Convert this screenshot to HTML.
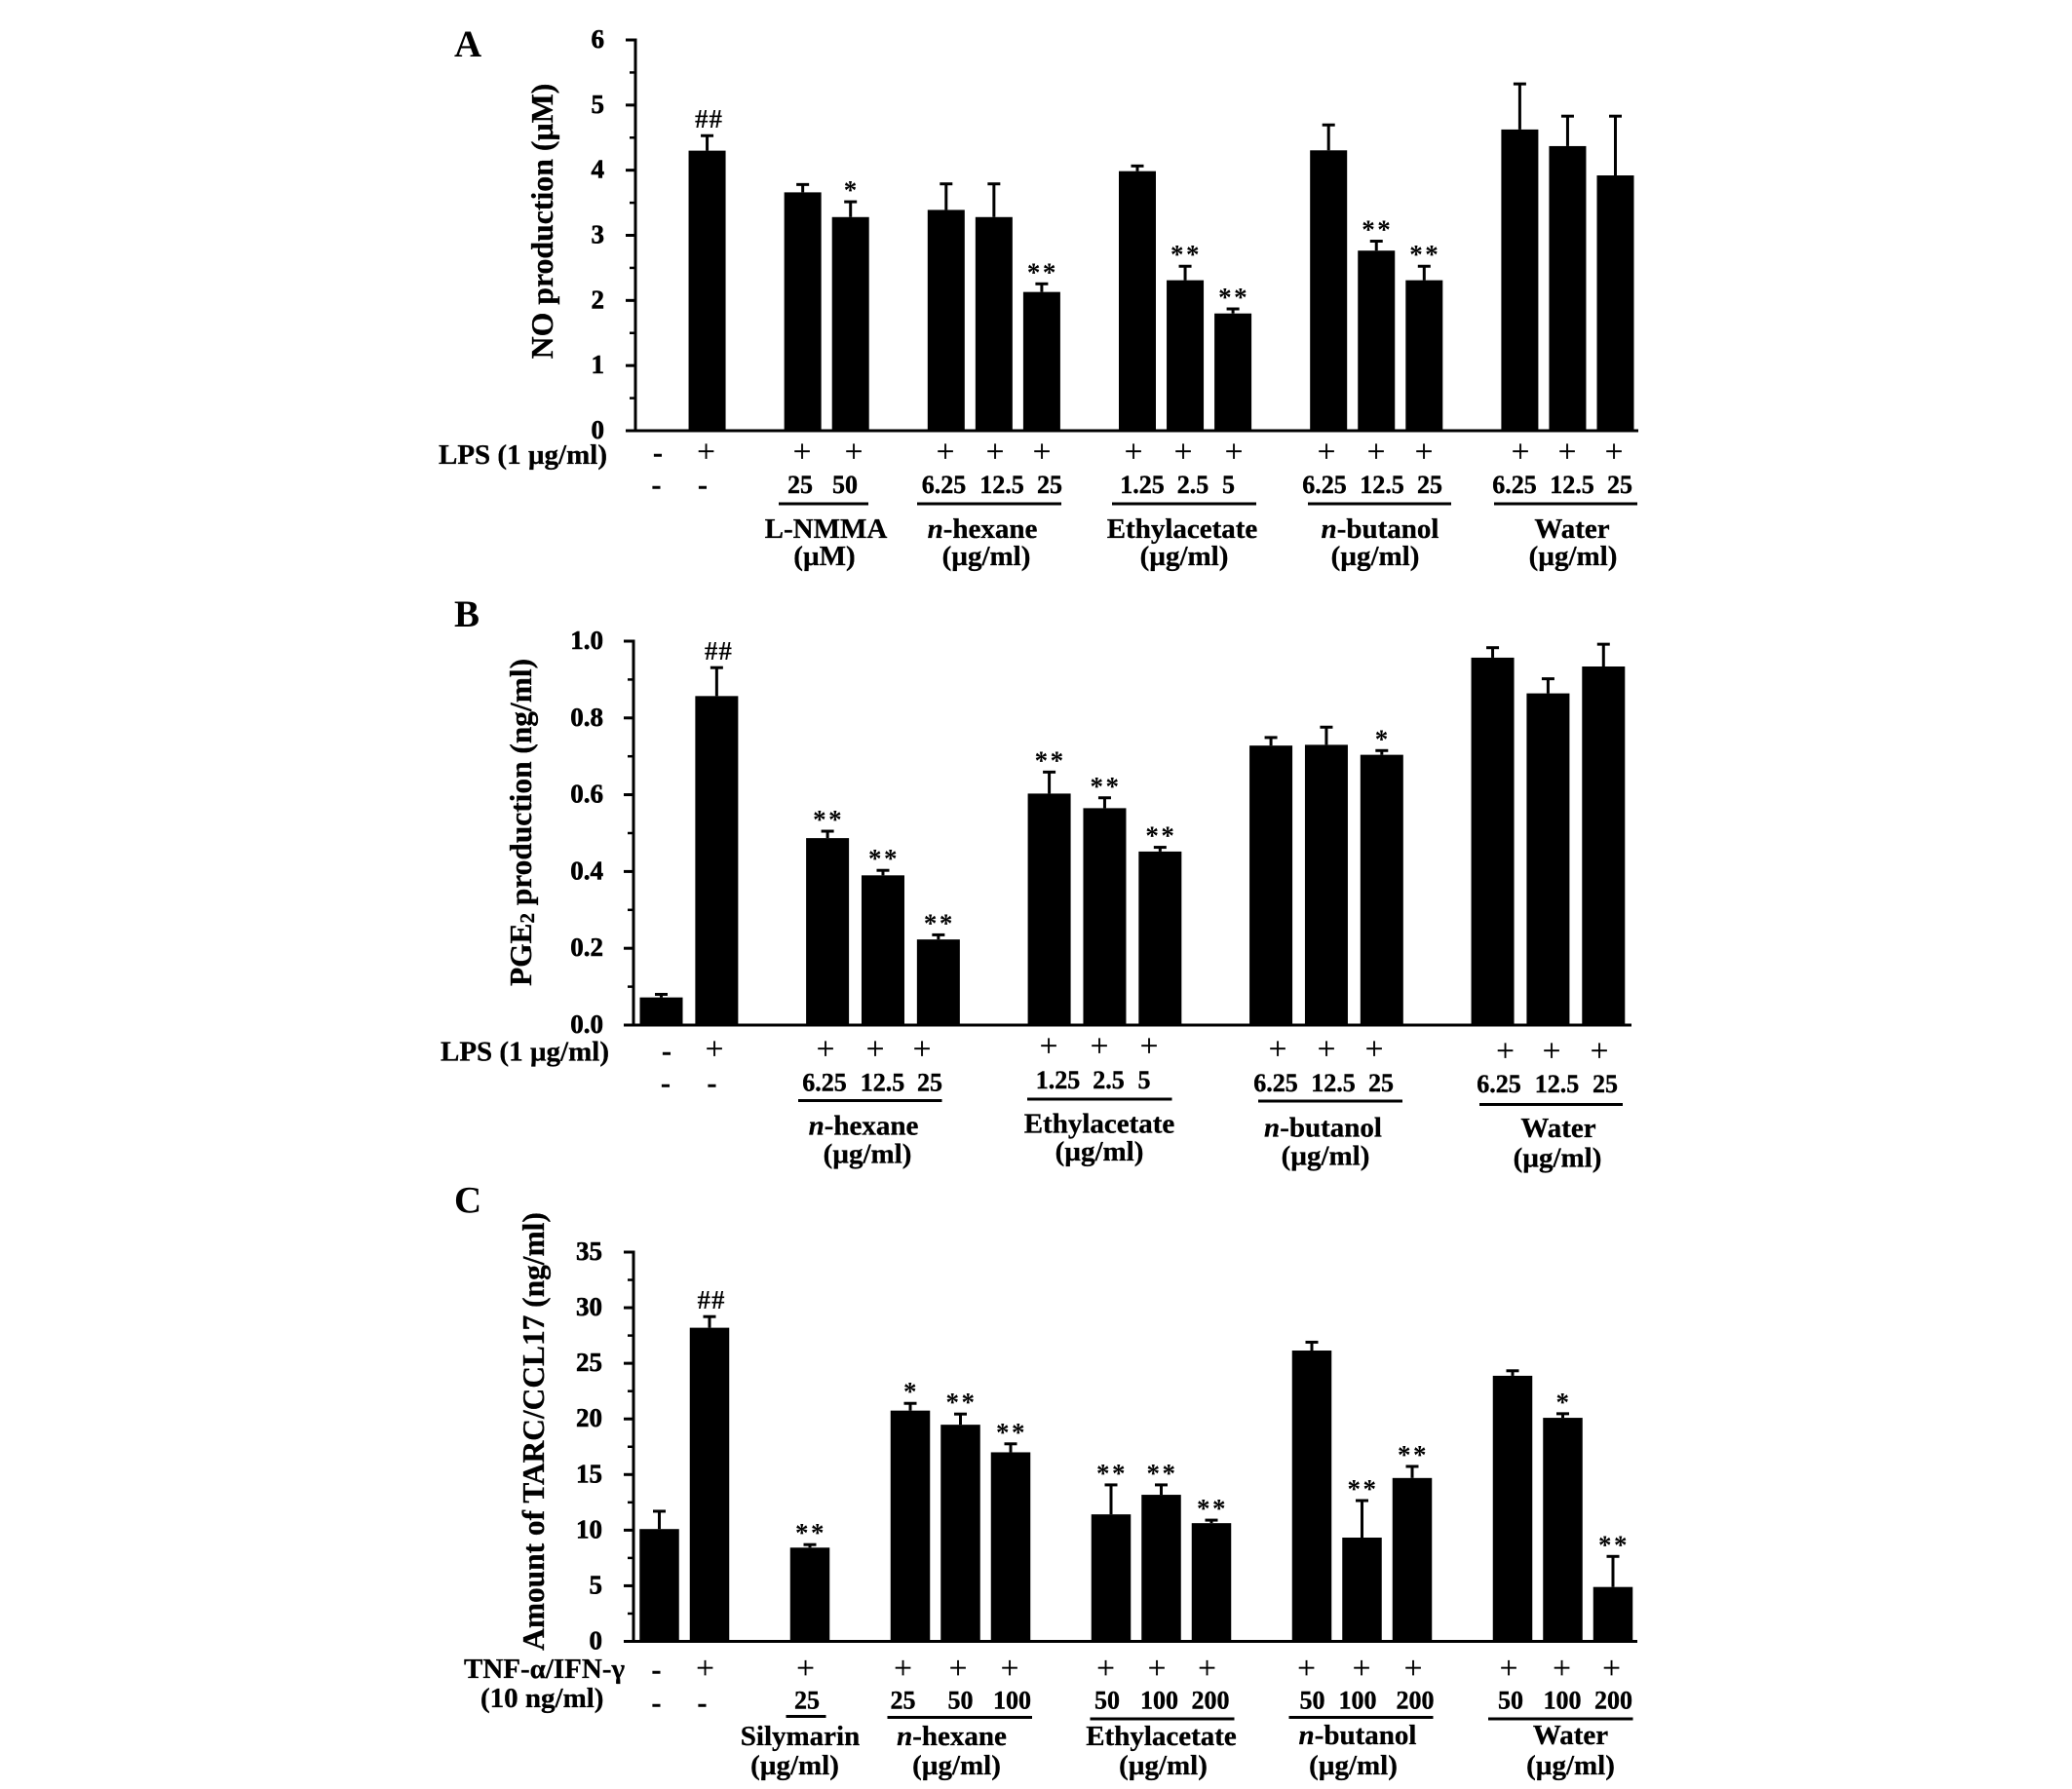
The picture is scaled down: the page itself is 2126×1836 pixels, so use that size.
<!DOCTYPE html>
<html lang="en">
<head>
<meta charset="utf-8">
<title>NO, PGE2 and TARC/CCL17 production</title>
<style>
html,body{margin:0;padding:0;background:#fff;}
svg{display:block;}
text{font-family:"Liberation Serif","Noto Serif CJK SC",serif;fill:#000;}
.n{font-size:26px;font-weight:bold;text-anchor:middle;stroke:#000;stroke-width:.4px;transform:translateY(-1px);}
.l{font-size:29px;font-weight:bold;text-anchor:middle;stroke:#000;stroke-width:.3px;}
.s{font-size:29px;font-weight:bold;stroke:#000;stroke-width:.3px;}
.p{font-size:33px;text-anchor:middle;stroke:#000;stroke-width:.3px;transform:translateY(1px);}
.m{font-size:29px;font-weight:bold;text-anchor:middle;stroke:#000;stroke-width:.6px;}
.t{font-size:39px;font-weight:bold;}
.u{stroke:#000;stroke-width:3px;}
</style>
</head>
<body>
<svg id="figure" xmlns="http://www.w3.org/2000/svg" width="2126" height="1836" viewBox="0 0 2126 1836">
<rect x="0" y="0" width="2126" height="1836" fill="#fff"/>

<g id="panel-a">
<text class="t" x="466" y="58">A</text>
<text class="s" style="font-size:31.8px" text-anchor="middle" transform="translate(567 227) rotate(-90)">NO production (µM)</text>
<text class="s" x="450" y="476">LPS (1 µg/ml)</text>
<g>
<text class="m" x="675" y="474">-</text>
<text class="p" x="724.5" y="473">+</text>
<text class="p" x="823" y="473">+</text>
<text class="p" x="876" y="473">+</text>
<text class="p" x="970" y="473">+</text>
<text class="p" x="1021" y="473">+</text>
<text class="p" x="1069" y="473">+</text>
<text class="p" x="1163" y="473">+</text>
<text class="p" x="1214" y="473">+</text>
<text class="p" x="1266" y="473">+</text>
<text class="p" x="1361" y="473">+</text>
<text class="p" x="1412" y="473">+</text>
<text class="p" x="1461" y="473">+</text>
<text class="p" x="1560" y="473">+</text>
<text class="p" x="1608" y="473">+</text>
<text class="p" x="1656" y="473">+</text>
</g>
<g>
<text class="m" x="673.5" y="507">-</text>
<text class="m" x="721" y="507">-</text>
<text class="n" x="821" y="507">25</text>
<text class="n" x="867" y="507">50</text>
<text class="n" x="968.5" y="507">6.25</text>
<text class="n" x="1028" y="507">12.5</text>
<text class="n" x="1077" y="507">25</text>
<text class="n" x="1172" y="507">1.25</text>
<text class="n" x="1224" y="507">2.5</text>
<text class="n" x="1260.5" y="507">5</text>
<text class="n" x="1359" y="507">6.25</text>
<text class="n" x="1418" y="507">12.5</text>
<text class="n" x="1467" y="507">25</text>
<text class="n" x="1554" y="507">6.25</text>
<text class="n" x="1613" y="507">12.5</text>
<text class="n" x="1662" y="507">25</text>
</g>
<line class="u" x1="799" y1="517" x2="891" y2="517"/>
<line class="u" x1="941" y1="517" x2="1089" y2="517"/>
<line class="u" x1="1141" y1="517" x2="1289" y2="517"/>
<line class="u" x1="1342" y1="517" x2="1489" y2="517"/>
<line class="u" x1="1533" y1="517" x2="1680" y2="517"/>
<text class="l" x="847.5" y="552">L-NMMA</text>
<text class="l" x="846" y="580">(µM)</text>
<text class="l" x="1008" y="552"><tspan font-style="italic">n</tspan>-hexane</text>
<text class="l" x="1012" y="580">(µg/ml)</text>
<text class="l" x="1213" y="552">Ethylacetate</text>
<text class="l" x="1215" y="580">(µg/ml)</text>
<text class="l" x="1416" y="552"><tspan font-style="italic">n</tspan>-butanol</text>
<text class="l" x="1411" y="580">(µg/ml)</text>
<text class="l" x="1613" y="552">Water</text>
<text class="l" x="1614" y="580">(µg/ml)</text>
</g>

<g id="panel-b">
<text class="t" x="466" y="643">B</text>
<text class="s" style="font-size:31.4px" text-anchor="middle" transform="translate(545 844) rotate(-90)">PGE<tspan font-size="21" dy="3">2</tspan><tspan dy="-3"> production (ng/ml)</tspan></text>
<text class="s" x="452" y="1088.5">LPS (1 µg/ml)</text>
<g>
<text class="m" x="684" y="1088">-</text>
<text class="p" x="733" y="1086">+</text>
<text class="p" x="847" y="1086">+</text>
<text class="p" x="898" y="1086">+</text>
<text class="p" x="946" y="1086">+</text>
<text class="p" x="1076" y="1083">+</text>
<text class="p" x="1128" y="1083">+</text>
<text class="p" x="1179" y="1083">+</text>
<text class="p" x="1311" y="1086">+</text>
<text class="p" x="1361" y="1086">+</text>
<text class="p" x="1410" y="1086">+</text>
<text class="p" x="1544.5" y="1088">+</text>
<text class="p" x="1592" y="1088">+</text>
<text class="p" x="1641" y="1088">+</text>
</g>
<g>
<text class="m" x="683" y="1121">-</text>
<text class="m" x="730.5" y="1121">-</text>
<text class="n" x="846" y="1120.5">6.25</text>
<text class="n" x="905.5" y="1120.5">12.5</text>
<text class="n" x="954" y="1120.5">25</text>
<text class="n" x="1085.5" y="1118">1.25</text>
<text class="n" x="1137.5" y="1118">2.5</text>
<text class="n" x="1174" y="1118">5</text>
<text class="n" x="1309" y="1121">6.25</text>
<text class="n" x="1368" y="1121">12.5</text>
<text class="n" x="1417" y="1121">25</text>
<text class="n" x="1538" y="1122">6.25</text>
<text class="n" x="1597.5" y="1122">12.5</text>
<text class="n" x="1647" y="1122">25</text>
</g>
<line class="u" x1="819" y1="1129.5" x2="966.5" y2="1129.5"/>
<line class="u" x1="1054" y1="1128" x2="1202.5" y2="1128"/>
<line class="u" x1="1291" y1="1130" x2="1439" y2="1130"/>
<line class="u" x1="1518" y1="1133.5" x2="1665" y2="1133.5"/>
<text class="l" x="886" y="1164.5"><tspan font-style="italic">n</tspan>-hexane</text>
<text class="l" x="890" y="1193.5">(µg/ml)</text>
<text class="l" x="1128" y="1162.5">Ethylacetate</text>
<text class="l" x="1128" y="1191">(µg/ml)</text>
<text class="l" x="1357.5" y="1166.5"><tspan font-style="italic">n</tspan>-butanol</text>
<text class="l" x="1360" y="1195.5">(µg/ml)</text>
<text class="l" x="1599" y="1167">Water</text>
<text class="l" x="1598" y="1197.5">(µg/ml)</text>
</g>

<g id="panel-c">
<text class="t" x="466" y="1244.5">C</text>
<text class="s" style="font-size:31.4px" text-anchor="middle" transform="translate(558 1469) rotate(-90)">Amount of TARC/CCL17 (ng/ml)</text>
<text class="s" x="476" y="1722">TNF-α/IFN-γ</text>
<text class="s" x="493" y="1752">(10 ng/ml)</text>
<g>
<text class="m" x="673.5" y="1723">-</text>
<text class="p" x="723.5" y="1721.5">+</text>
<text class="p" x="826.5" y="1721.5">+</text>
<text class="p" x="926.5" y="1721.5">+</text>
<text class="p" x="983" y="1721.5">+</text>
<text class="p" x="1036" y="1721.5">+</text>
<text class="p" x="1134.5" y="1721.5">+</text>
<text class="p" x="1187" y="1721.5">+</text>
<text class="p" x="1238.5" y="1721.5">+</text>
<text class="p" x="1340.5" y="1721.5">+</text>
<text class="p" x="1397" y="1721.5">+</text>
<text class="p" x="1450" y="1721.5">+</text>
<text class="p" x="1548" y="1721.5">+</text>
<text class="p" x="1602.5" y="1721.5">+</text>
<text class="p" x="1653.5" y="1721.5">+</text>
</g>
<g>
<text class="m" x="673.5" y="1757">-</text>
<text class="m" x="720.5" y="1757">-</text>
<text class="n" x="828" y="1754.5">25</text>
<text class="n" x="926.5" y="1754.5">25</text>
<text class="n" x="985.5" y="1754.5">50</text>
<text class="n" x="1038.5" y="1754.5">100</text>
<text class="n" x="1136" y="1754.5">50</text>
<text class="n" x="1189.5" y="1754.5">100</text>
<text class="n" x="1242" y="1754.5">200</text>
<text class="n" x="1346.5" y="1754.5">50</text>
<text class="n" x="1393" y="1754.5">100</text>
<text class="n" x="1452" y="1754.5">200</text>
<text class="n" x="1550" y="1754.5">50</text>
<text class="n" x="1603" y="1754.5">100</text>
<text class="n" x="1655.5" y="1754.5">200</text>
</g>
<line class="u" x1="806.5" y1="1761.5" x2="847.5" y2="1761.5"/>
<line class="u" x1="910.5" y1="1762.5" x2="1059" y2="1762.5"/>
<line class="u" x1="1118.5" y1="1764" x2="1266.5" y2="1764"/>
<line class="u" x1="1322.5" y1="1762.5" x2="1470.5" y2="1762.5"/>
<line class="u" x1="1527" y1="1764" x2="1675.5" y2="1764"/>
<text class="l" x="821" y="1791">Silymarin</text>
<text class="l" x="815.5" y="1821">(µg/ml)</text>
<text class="l" x="976.5" y="1791"><tspan font-style="italic">n</tspan>-hexane</text>
<text class="l" x="981.5" y="1821">(µg/ml)</text>
<text class="l" x="1191.5" y="1791">Ethylacetate</text>
<text class="l" x="1193.5" y="1821">(µg/ml)</text>
<text class="l" x="1393" y="1790"><tspan font-style="italic">n</tspan>-butanol</text>
<text class="l" x="1388.5" y="1821">(µg/ml)</text>
<text class="l" x="1611.5" y="1790">Water</text>
<text class="l" x="1611.5" y="1821">(µg/ml)</text>
</g>
</svg>

<script>
// Panel A: NO production (µM). Null entries are the blank slots between groups.
const categoriesA = ["control","LPS",null,"L-NMMA 25","L-NMMA 50",null,"n-hexane 6.25","n-hexane 12.5","n-hexane 25",null,"Ethylacetate 1.25","Ethylacetate 2.5","Ethylacetate 5",null,"n-butanol 6.25","n-butanol 12.5","n-butanol 25",null,"Water 6.25","Water 12.5","Water 25"];
const valuesA = [0,4.30,null,3.66,3.28,null,3.39,3.28,2.13,null,3.985,2.31,1.80,null,4.305,2.765,2.31,null,4.625,4.37,3.92];
const errorsA = [0,0.23,null,0.12,0.235,null,0.40,0.51,0.125,null,0.08,0.215,0.07,null,0.39,0.145,0.215,null,0.70,0.46,0.91];
const marksA = ["","##",null,"","*",null,"","","**",null,"","**","**",null,"","**","**",null,"","",""];
const ticksA = ["0","1","2","3","4","5","6"];

// Panel B: PGE2 production (ng/ml)
const categoriesB = ["control","LPS",null,"n-hexane 6.25","n-hexane 12.5","n-hexane 25",null,"Ethylacetate 1.25","Ethylacetate 2.5","Ethylacetate 5",null,"n-butanol 6.25","n-butanol 12.5","n-butanol 25",null,"Water 6.25","Water 12.5","Water 25"];
const valuesB = [0.072,0.857,null,0.487,0.39,0.223,null,0.603,0.565,0.452,null,0.728,0.73,0.704,null,0.957,0.864,0.934];
const errorsB = [0.008,0.074,null,0.018,0.013,0.012,null,0.056,0.027,0.011,null,0.021,0.046,0.011,null,0.026,0.038,0.058];
const marksB = ["","##",null,"**","**","**",null,"**","**","**",null,"","","*",null,"","",""];
const ticksB = ["0.0","0.2","0.4","0.6","0.8","1.0"];

// Panel C: TARC/CCL17 (ng/ml)
const categoriesC = ["control","TNF/IFN",null,"Silymarin 25",null,"n-hexane 25","n-hexane 50","n-hexane 100",null,"Ethylacetate 50","Ethylacetate 100","Ethylacetate 200",null,"n-butanol 50","n-butanol 100","n-butanol 200",null,"Water 50","Water 100","Water 200"];
const valuesC = [10.1,28.2,null,8.43,null,20.75,19.48,17.0,null,11.42,13.18,10.63,null,26.15,9.33,14.69,null,23.88,20.1,4.89];
const errorsC = [1.6,1.0,null,0.27,null,0.65,0.96,0.76,null,2.65,0.89,0.27,null,0.75,3.33,1.04,null,0.45,0.37,2.75];
const marksC = ["","##",null,"**",null,"*","**","**",null,"**","**","**",null,"","**","**",null,"","*","**"];
const ticksC = ["0","5","10","15","20","25","30","35"];

const SVG_NS = "http://www.w3.org/2000/svg";

function make(parent, tag, attrs) {
  const el = document.createElementNS(SVG_NS, tag);
  for (const k in attrs) el.setAttribute(k, attrs[k]);
  parent.appendChild(el);
  return el;
}

function drawPanel(id, categories, values, errors, marks, ticks, minorStep, geo) {
  const root = document.getElementById("panel-" + id);
  const maxValue = parseFloat(ticks[ticks.length - 1]);
  const yScale = v => geo.yZero - (v / maxValue) * (geo.yZero - geo.yTop);
  const xScale = i => geo.xFirst + geo.pitch * i;

  // minor and major ticks
  const minorCount = Math.round(maxValue / minorStep);
  for (let m = 0; m <= minorCount; m++) {
    const v = m * minorStep;
    const tick = make(root, "line", {x1: geo.xAxis - 6, x2: geo.xAxis, y1: yScale(v), y2: yScale(v), stroke: "#000", "stroke-width": 2.5});
    
    
  }
  ticks.forEach(label => {
    const v = parseFloat(label);
    const tick = make(root, "line", {x1: geo.xAxis - 10, x2: geo.xAxis, y1: yScale(v), y2: yScale(v), stroke: "#000", "stroke-width": 3});
    
    
    const text = make(root, "text", {x: geo.xLabel, y: yScale(v) + 8, "text-anchor": "end", "font-size": 27, "font-weight": "bold", stroke: "#000", "stroke-width": 0.6});
    
    
    text.textContent = label;
  });

  // bars, error bars and significance marks
  categories.forEach((category, i) => {
    if (category === null || !values[i]) return;
    const cx = xScale(i);
    const top = yScale(values[i]);
    const errTop = yScale(values[i] + errors[i]);

    const stem = make(root, "line", {x1: cx, x2: cx, y1: errTop, y2: top, stroke: "#000", "stroke-width": 3});
    
    
    const cap = make(root, "line", {x1: cx - 6.5, x2: cx + 6.5, y1: errTop, y2: errTop, stroke: "#000", "stroke-width": 3});
    
    

    const bar = make(root, "rect", {x: cx - geo.barWidth / 2, y: top, width: geo.barWidth, height: geo.yZero - top, fill: "#000"});
    
    
    bar.setAttribute('aria-label', category);

    if (marks[i]) {
      const isHash = marks[i] === "##";
      const mark = make(root, "text", {x: cx + (isHash ? 2 : 1), y: errTop + (isHash ? -8 : -3), "text-anchor": "middle", "font-size": 27, "font-weight": "bold", "letter-spacing": isHash ? 1 : 2.5});
      
      
      mark.textContent = marks[i];
    }
  });

  // axes on top of the bars
  const yAxis = make(root, "line", {x1: geo.xAxis, x2: geo.xAxis, y1: geo.yTop - 1.5, y2: geo.yZero + 1.5, stroke: "#000", "stroke-width": 3});
  
  
  const xAxis = make(root, "line", {x1: geo.xAxis - 10, x2: geo.xEnd, y1: geo.yZero, y2: geo.yZero, stroke: "#000", "stroke-width": 3});
  
  
}

drawPanel("a", categoriesA, valuesA, errorsA, marksA, ticksA, 0.5,
  {xAxis: 652, xEnd: 1681, yTop: 41, yZero: 442, xFirst: 676.5, pitch: 49.05, barWidth: 38, xLabel: 620});
drawPanel("b", categoriesB, valuesB, errorsB, marksB, ticksB, 0.1,
  {xAxis: 650, xEnd: 1674, yTop: 658, yZero: 1052, xFirst: 678.5, pitch: 56.87, barWidth: 44, xLabel: 619});
drawPanel("c", categoriesC, valuesC, errorsC, marksC, ticksC, 2.5,
  {xAxis: 650, xEnd: 1680, yTop: 1285, yZero: 1684.5, xFirst: 676.5, pitch: 51.5, barWidth: 40.5, xLabel: 618});
</script>
</body>
</html>
